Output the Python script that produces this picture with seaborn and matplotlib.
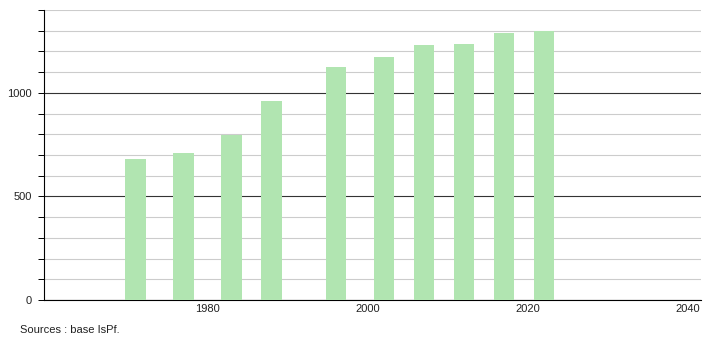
import matplotlib
matplotlib.use("Agg")
import matplotlib.pyplot as plt
import seaborn as sns
import pandas as pd
from matplotlib.ticker import MultipleLocator

years = [1971, 1977, 1983, 1988, 1996, 2002, 2007, 2012, 2017, 2022]
population = [681, 710, 797, 961, 1126, 1174, 1229, 1234, 1287, 1299]
x_ticks = [1980, 2000, 2020, 2040]
source_text = "Sources : base IsPf."

df = pd.DataFrame({"year": years, "pop": population})

sns.set_theme(style="white")
plt.rcParams['font.family'] = ['Liberation Sans', 'DejaVu Sans']

fig = plt.figure(figsize=(7.1, 3.4), dpi=100)
ax = fig.add_axes([0.0624, 0.1176, 0.9246, 0.853])

ax.bar(df["year"], df["pop"], width=2.55, color="#b1e5b1", zorder=3, linewidth=0)

ax.set_xlim(1959.6, 2041.6)
ax.set_ylim(0, 1400)
ax.set_xticks(x_ticks)
ax.set_xticklabels([str(t) for t in x_ticks])
ax.yaxis.set_major_locator(MultipleLocator(500))
ax.yaxis.set_minor_locator(MultipleLocator(100))

ax.grid(False)
ax.yaxis.grid(True, which="minor", color="#cccccc", linewidth=0.8, zorder=0)
ax.yaxis.grid(True, which="major", color="#333333", linewidth=0.8, zorder=1)
ax.set_axisbelow(True)

for s in ["top", "right"]:
    ax.spines[s].set_visible(False)
ax.spines["left"].set_color("black")
ax.spines["bottom"].set_color("black")
ax.spines["left"].set_linewidth(0.8)
ax.spines["bottom"].set_linewidth(0.8)

ax.tick_params(axis="y", which="both", direction="out", length=4, width=0.7,
               color="black", labelsize=8, labelcolor="#222222", left=True, pad=5)
ax.tick_params(axis="x", which="both", length=0, labelsize=8, labelcolor="#222222", pad=3)
ax.set_xlabel("")
ax.set_ylabel("")

fig.text(0.028, 0.029, source_text, fontsize=8, color="#222222", ha="left", va="center")

fig.savefig("out.png", dpi=100)
